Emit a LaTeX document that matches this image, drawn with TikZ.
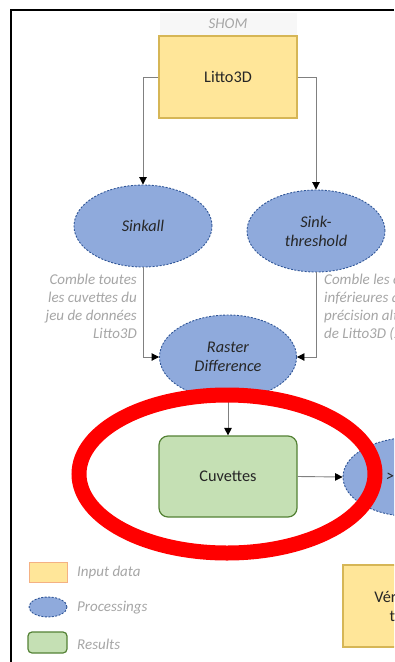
\documentclass[tikz,border=0pt]{standalone}
\usepackage{fontspec}
\setmainfont{Carlito}
\usetikzlibrary{shapes.geometric,arrows.meta}
\definecolor{yfill}{HTML}{FFE699}
\definecolor{yedge}{HTML}{D6B656}
\definecolor{bfill}{HTML}{8FAADC}
\definecolor{bedge}{HTML}{2F5597}
\definecolor{gfill}{HTML}{C5E0B4}
\definecolor{gedge}{HTML}{548235}
\definecolor{ltxt}{HTML}{A6A6A6}
\definecolor{dtxt}{HTML}{262626}
\definecolor{lgedge}{HTML}{F4B183}
\definecolor{lnk}{HTML}{808080}
\definecolor{shombg}{HTML}{F7F7F7}
\begin{document}
\begin{tikzpicture}[x=1pt,y=-1pt,
  maintxt/.style={text=dtxt,font=\fontsize{16.3}{19}\selectfont,align=center},
  inputbox/.style={maintxt,draw=yedge,fill=yfill,line width=1.3pt,minimum width=138pt,minimum height=82pt,inner sep=0pt},
  procell/.style={maintxt,font=\fontsize{16.3}{19}\selectfont\itshape,ellipse,draw=bedge,fill=bfill,dash pattern=on 2pt off 1.5pt,line width=0.9pt,minimum width=138pt,minimum height=82pt,inner sep=0pt},
  resbox/.style={maintxt,rounded corners=9pt,draw=gedge,fill=gfill,line width=1.2pt,minimum width=138pt,minimum height=81pt,inner sep=0pt},
  comment/.style={text=ltxt,font=\fontsize{15}{18}\selectfont\itshape,inner sep=0pt},
  flow/.style={draw=lnk,line width=0.9pt,-{Triangle[length=7.5pt,width=7.5pt,black]}},
  legtxt/.style={text=ltxt,font=\fontsize{15}{18}\selectfont\itshape,inner sep=0pt,anchor=west}
]
\useasboundingbox (0,0) rectangle (394,662);
\clip (0,0) rectangle (394,662);
\fill[white] (0,0) rectangle (394,662);
% frame
\draw[line width=1.2pt] (11,662) -- (11,10) -- (394,10);

% source label
\node[fill=shombg,minimum width=137pt,minimum height=22pt,inner sep=0pt,comment] (shom) at (228,24) {SHOM};

% nodes
\node[inputbox] (litto) at (228,77) {Litto3D};
\node[procell] (sinkall) at (143,226) {Sinkall};
\node[procell] (sinkthr) at (316,231) {Sink-\\threshold};
\node[procell,minimum width=137pt,minimum height=84pt] (raster) at (228,357) {Raster\\Difference};
\node[resbox] (cuv) at (228,476.5) {Cuvettes};
\node[procell,minimum height=79pt] (thr) at (412,477) {};
\node[maintxt,font=\fontsize{16.3}{19}\selectfont\itshape,anchor=west,inner sep=0pt] (gt) at (386,477) {>};
\node[inputbox] (verif) at (412,606) {Vérification\\terrain};

% comments
\node[comment,anchor=north east,align=right] (cmL) at (137,273.5) {Comble toutes\\les cuvettes du\\jeu de données\\Litto3D};
\node[comment,anchor=north west,align=left] (cmR) at (324,273.5) {Comble les cuvettes\\inférieures à la\\précision altimétrique\\de Litto3D (20 cm)};

% connectors
\draw[flow] (litto.west) -| (sinkall.north);
\draw[flow] (litto.east) -| (sinkthr.north);
\draw[flow] (sinkall.south) |- (raster.west);
\draw[flow] (sinkthr.south) |- (raster.east);
\draw[flow] (raster.south) -- (cuv.north);
\draw[flow] (cuv.east) -- (thr.west);

% legend
\node[draw=lgedge,fill=yfill,line width=1pt,minimum width=38pt,minimum height=20pt,inner sep=0pt] (lgin) at (48,572) {};
\node[legtxt] (lgintxt) at (77,572) {Input data};
\node[ellipse,draw=bedge,fill=bfill,dash pattern=on 2pt off 1.5pt,line width=0.9pt,minimum width=38pt,minimum height=20pt,inner sep=0pt] (lgpr) at (48,607) {};
\node[legtxt] (lgprtxt) at (77,608) {Processings};
\node[rounded corners=4pt,draw=gedge,fill=gfill,line width=1.2pt,minimum width=39pt,minimum height=21pt,inner sep=0pt] (lgres) at (47.5,642.5) {};
\node[legtxt] (lgrestxt) at (77,644) {Results};

% highlight ring
\node[ellipse,draw=red,line width=15pt,minimum width=296pt,minimum height=158pt,inner sep=0pt] (ring) at (227,474) {};
\end{tikzpicture}
\end{document}
